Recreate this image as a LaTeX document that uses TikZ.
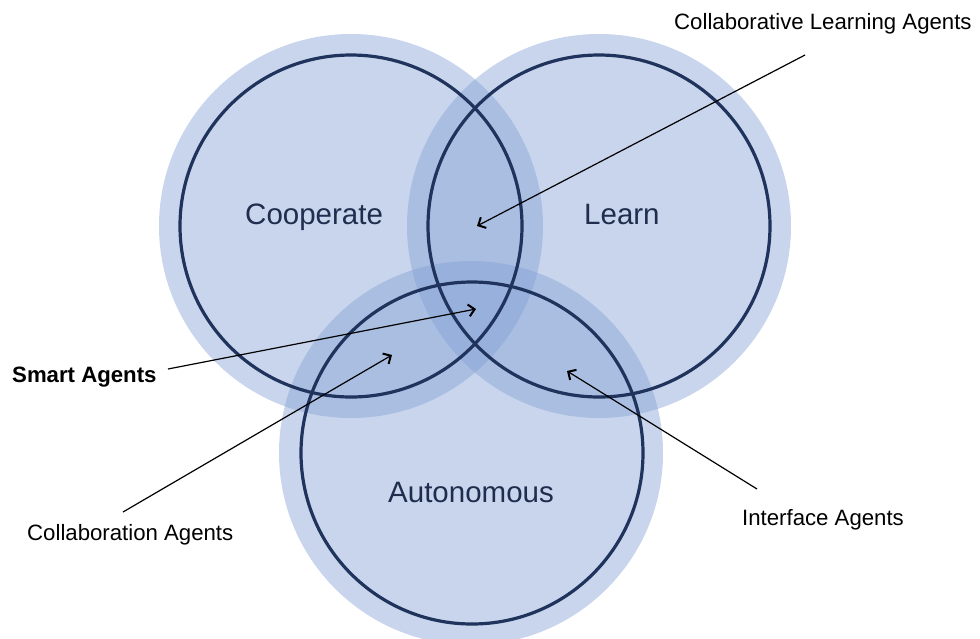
\documentclass[tikz,border=0pt]{standalone}
\usepackage{fontspec}
\setmainfont{Liberation Sans}
\usetikzlibrary{arrows.meta}
\definecolor{vennfill}{RGB}{130,160,212}
\definecolor{ringcol}{RGB}{31,51,92}
\definecolor{labcol}{RGB}{31,45,78}
\tikzset{
  disk/.style={circle, inner sep=0pt, minimum size=384pt, fill=vennfill, fill opacity=0.44, draw=none},
  ring/.style={circle, inner sep=0pt, minimum size=342pt, draw=ringcol, line width=3.2pt},
  setlabel/.style={anchor=base west, inner sep=0pt, text=labcol, font=\fontsize{29.5}{34}\selectfont},
  calllabel/.style={anchor=base west, inner sep=0pt, text=black, font=\fontsize{22.2}{26}\selectfont},
  callout/.style={draw=black, line width=1.2pt, -{Straight Barb[length=6pt,width=12pt,line width=2pt]}}
}
\begin{document}
\begin{tikzpicture}[x=1pt,y=-1pt]
\useasboundingbox (0,0) rectangle (980,638);
\clip (0,0) rectangle (980,638);
% translucent disks
\node[disk] (dC) at (351,226) {};
\node[disk] (dL) at (599,226) {};
\node[disk] (dA) at (471,453) {};
% dark rings
\node[ring] (rC) at (351,226) {};
\node[ring] (rL) at (599,226) {};
\node[ring] (rA) at (472,453) {};
% set labels
\node[setlabel] (tC) at (245,224) {Cooperate};
\node[setlabel] (tL) at (584,224) {Learn};
\node[setlabel] (tA) at (388,502) {Autonomous};
% callout labels
\node[calllabel] (cla) at (674,29) {Collaborative Learning Agents};
\node[calllabel, font=\fontsize{22.2}{26}\selectfont\bfseries] (sa) at (12,382) {Smart Agents};
\node[calllabel] (ca) at (27,540) {Collaboration Agents};
\node[calllabel] (ia) at (742,525) {Interface Agents};
% connector end points
\coordinate (claS) at (805,55);
\coordinate (claT) at (477,226);
\coordinate (saS) at (168,369);
\coordinate (saT) at (476,309);
\coordinate (caS) at (123,512);
\coordinate (caT) at (392,355);
\coordinate (iaS) at (757,489);
\coordinate (iaT) at (567,371);
\draw[callout] (claS) -- (claT);
\draw[callout] (saS) -- (saT);
\draw[callout] (caS) -- (caT);
\draw[callout] (iaS) -- (iaT);
\end{tikzpicture}
\end{document}
